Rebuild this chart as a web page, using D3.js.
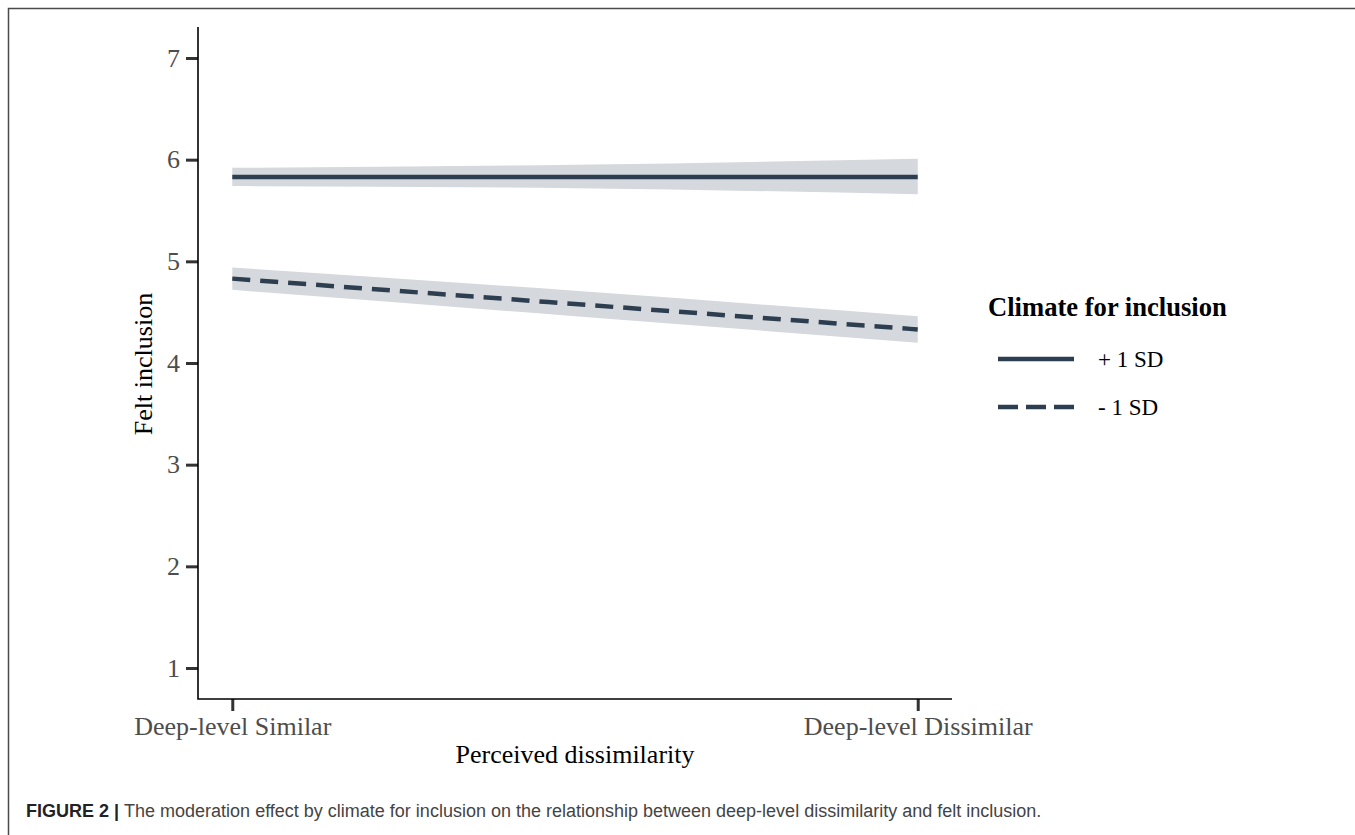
<!DOCTYPE html>
<html>
<head>
<meta charset="utf-8">
<script src="https://cdn.jsdelivr.net/npm/d3@7"></script>
<style>
  body { margin: 0; background: #fff; }
  svg { display: block; }
</style>
</head>
<body>
<div id="chart"></div>
<script>
// positions along the x axis (0 = similar, 1 = dissimilar)
const xPoints = [0, 0.5, 1];
const xTickValues = [0, 1];
const xTickLabels = ["Deep-level Similar", "Deep-level Dissimilar"];
const yTicks = [1, 2, 3, 4, 5, 6, 7];

// +1 SD climate for inclusion
const highFit = [5.83, 5.83, 5.83];
const highLower = [5.74, 5.72, 5.66];
const highUpper = [5.92, 5.95, 6.01];

// -1 SD climate for inclusion
const lowFit = [4.83, 4.58, 4.33];
const lowLower = [4.72, 4.46, 4.20];
const lowUpper = [4.94, 4.71, 4.46];

const seriesNames = ["+ 1 SD", "- 1 SD"];

const width = 1355, height = 835;
const lineColor = "#2c3e50";
const bandColor = "#d5d8dc";
const serif = "'Liberation Serif', 'Times New Roman', serif";

const svg = d3.select("#chart").append("svg")
    .attr("width", width)
    .attr("height", height);

// outer frame (left + top only visible)
svg.append("path")
    .attr("d", "M8.5,835 L8.5,8.5 L1355,8.5")
    .attr("fill", "none")
    .attr("stroke", "#4a4a4a")
    .attr("stroke-width", 1.5);

const x = d3.scaleLinear().domain([-0.05, 1.05]).range([198, 952]);
const y = d3.scaleLinear().domain([0.695, 7.305]).range([699, 27]);

const series = [
    { name: seriesNames[0], fit: highFit, lo: highLower, hi: highUpper, dash: null },
    { name: seriesNames[1], fit: lowFit, lo: lowLower, hi: lowUpper, dash: "18,10" }
];

const area = d3.area()
    .x((d, i) => x(xPoints[i]))
    .y0(d => y(d[0]))
    .y1(d => y(d[1]))
    .curve(d3.curveMonotoneX);

const line = d3.line()
    .x((d, i) => x(xPoints[i]))
    .y(d => y(d))
    .curve(d3.curveMonotoneX);

series.forEach(s => {
    svg.append("path")
        .datum(s.lo.map((v, i) => [v, s.hi[i]]))
        .attr("d", area)
        .attr("fill", bandColor);
});

series.forEach(s => {
    svg.append("path")
        .datum(s.fit)
        .attr("d", line)
        .attr("fill", "none")
        .attr("stroke", lineColor)
        .attr("stroke-width", 4.5)
        .attr("stroke-dasharray", s.dash);
});

// y axis
const yAxis = svg.append("g")
    .attr("transform", "translate(198,0)")
    .call(d3.axisLeft(y).tickValues(yTicks).tickFormat(d3.format("d"))
        .tickSize(12).tickPadding(6).tickSizeOuter(0));
yAxis.select(".domain").remove();
yAxis.selectAll(".tick line").attr("stroke", "#333").attr("stroke-width", 3);
yAxis.selectAll(".tick text")
    .attr("font-family", serif).attr("font-size", 26).attr("fill", "#4d4d4d");

// x axis
const xAxis = svg.append("g")
    .attr("transform", "translate(0,699)")
    .call(d3.axisBottom(x).tickValues(xTickValues).tickFormat((d, i) => xTickLabels[i])
        .tickSize(12).tickPadding(6).tickSizeOuter(0));
xAxis.select(".domain").remove();
xAxis.selectAll(".tick line").attr("stroke", "#333").attr("stroke-width", 3);
xAxis.selectAll(".tick text")
    .attr("font-family", serif).attr("font-size", 26).attr("fill", "#4d4d4d");

// axis lines
svg.append("path")
    .attr("d", `M198,${y.range()[1]} L198,699 L952,699`)
    .attr("fill", "none")
    .attr("stroke", "#000")
    .attr("stroke-width", 1.6);

// axis titles
svg.append("text")
    .attr("x", 575).attr("y", 763)
    .attr("text-anchor", "middle")
    .attr("font-family", serif).attr("font-size", 26)
    .text("Perceived dissimilarity");

svg.append("text")
    .attr("transform", "translate(152,364) rotate(-90)")
    .attr("text-anchor", "middle")
    .attr("font-family", serif).attr("font-size", 26)
    .text("Felt inclusion");

// legend
const legend = svg.append("g");
legend.append("text")
    .attr("x", 988).attr("y", 316)
    .attr("font-family", serif).attr("font-size", 26.6).attr("font-weight", "bold")
    .text("Climate for inclusion");

series.forEach((s, i) => {
    const ly = 359 + i * 48;
    legend.append("line")
        .attr("x1", 998).attr("x2", 1074)
        .attr("y1", ly).attr("y2", ly)
        .attr("stroke", lineColor)
        .attr("stroke-width", 4.5)
        .attr("stroke-dasharray", s.dash ? "20,8" : null);
    legend.append("text")
        .attr("x", 1098).attr("y", ly + 8)
        .attr("font-family", serif).attr("font-size", 23)
        .text(s.name);
});

// caption
const caption = svg.append("text")
    .attr("x", 26).attr("y", 817)
    .attr("font-family", "'Liberation Sans', Arial, sans-serif")
    .attr("font-size", 18);
caption.append("tspan").attr("font-weight", "bold").attr("fill", "#222").text("FIGURE 2 | ");
caption.append("tspan").attr("fill", "#444")
    .text("The moderation effect by climate for inclusion on the relationship between deep-level dissimilarity and felt inclusion.");
</script>
</body>
</html>
